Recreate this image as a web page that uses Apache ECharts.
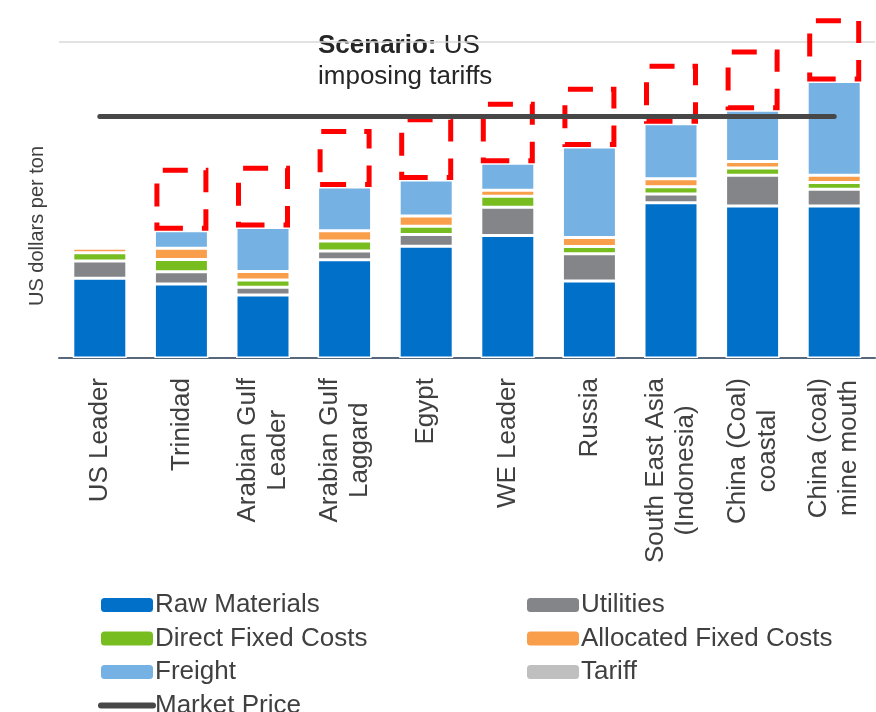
<!DOCTYPE html>
<html>
<head>
<meta charset="utf-8">
<script src="https://cdn.jsdelivr.net/npm/echarts@6/dist/echarts.min.js"></script>
<style>
  html, body { margin: 0; padding: 0; background: #ffffff; }
  #chart { width: 876px; height: 712px; }
</style>
</head>
<body>
<div id="chart"></div>
<script>
// Cost build-up per producer region (US dollars per ton)
const categories = [
  'US Leader',
  'Trinidad',
  'Arabian Gulf\nLeader',
  'Arabian Gulf\nLaggard',
  'Egypt',
  'WE Leader',
  'Russia',
  'South East Asia\n(Indonesia)',
  'China (Coal)\ncoastal',
  'China (coal)\nmine mouth'
];
const rawMaterials   = [252, 234, 199, 311, 354, 388, 244, 491, 481, 481];
const utilities      = [55, 39, 25, 28, 37, 89, 86, 28, 97, 53];
const directFixed    = [26, 39, 23, 31, 26, 35, 23, 23, 23, 21];
const allocatedFixed = [14, 35, 27, 33, 32, 19, 28, 25, 21, 23];
const freight        = [0, 56, 139, 138, 114, 85, 287, 174, 162, 297];
const tariff         = [null, 199, 195, 184, 199, 195, 190, 190, 192, 200];
const marketPrice    = [764, 764, 764, 764, 764, 764, 764, 764, 764, 764];

const FONT = "'Liberation Sans', Arial, Helvetica, sans-serif";
const TEXT = '#404040';

const chart = echarts.init(document.getElementById('chart'), null, { renderer: 'canvas' });

function costBar(name, data, color) {
  return {
    name: name,
    type: 'bar',
    stack: 'cost',
    barWidth: 54,
    data: data,
    itemStyle: { color: color, borderColor: '#ffffff', borderWidth: 1.5 },
    emphasis: { disabled: true }
  };
}

function legendBlock(left, items) {
  return {
    orient: 'vertical',
    left: left,
    top: 592,
    height: 200,
    padding: 0,
    itemWidth: 52,
    itemHeight: 14,
    itemGap: 7.5,
    textStyle: { fontFamily: FONT, fontSize: 26, color: TEXT, padding: [0, 0, 0, -3] },
    itemStyle: { borderWidth: 0 },
    data: items
  };
}

const option = {
  animation: false,
  backgroundColor: '#ffffff',
  grid: { left: 59, right: 1, top: 42, bottom: 354 },
  graphic: [{
    type: 'text',
    left: 318,
    top: 30,
    style: {
      text: '{b|Scenario:} US\nimposing tariffs',
      fontFamily: FONT,
      fontSize: 26,
      lineHeight: 31,
      fill: '#262626',
      rich: {
        b: { fontFamily: FONT, fontSize: 26, lineHeight: 31, fontWeight: 'bold', fill: '#262626' }
      }
    }
  }],
  legend: [
    legendBlock(98, [
      'Raw Materials',
      'Direct Fixed Costs',
      'Freight',
      {
        name: 'Market Price',
        itemStyle: { color: 'rgba(0,0,0,0)', borderWidth: 0 },
        lineStyle: { color: '#474747', width: 6, cap: 'round' }
      }
    ]),
    legendBlock(527, [
      'Utilities',
      'Allocated Fixed Costs',
      { name: 'Tariff', itemStyle: { color: '#BFBFBF', borderWidth: 0, borderColor: '#BFBFBF', borderType: 'solid' } }
    ])
  ],
  xAxis: {
    type: 'category',
    data: categories,
    axisLine: { show: true, lineStyle: { color: '#56687A', width: 2 } },
    axisTick: { show: false },
    axisLabel: {
      interval: 0,
      rotate: 90,
      margin: 20,
      fontFamily: FONT,
      fontSize: 26,
      color: TEXT,
      formatter: function (v) {
        return v.split('\n').map(function (s) { return '{c|' + s + '}'; }).join('\n');
      },
      rich: {
        c: { align: 'center', fontFamily: FONT, fontSize: 26, color: TEXT, lineHeight: 30 }
      }
    }
  },
  yAxis: {
    type: 'value',
    min: 0,
    max: 1000,
    interval: 1000,
    name: 'US dollars per ton',
    nameLocation: 'middle',
    nameGap: 12,
    nameTextStyle: { fontFamily: FONT, fontSize: 20, color: TEXT, padding: [0, 52, 0, 0] },
    axisLine: { show: false },
    axisTick: { show: false },
    axisLabel: { show: false },
    splitLine: { show: true, lineStyle: { color: '#D9D9D9', width: 1.5 } }
  },
  series: [
    costBar('Raw Materials', rawMaterials, '#0070C9'),
    costBar('Utilities', utilities, '#838589'),
    costBar('Direct Fixed Costs', directFixed, '#78BD20'),
    costBar('Allocated Fixed Costs', allocatedFixed, '#F99E4B'),
    costBar('Freight', freight, '#75B2E3'),
    {
      name: 'Tariff',
      type: 'bar',
      stack: 'cost',
      data: tariff,
      clip: false,
      itemStyle: {
        color: 'rgba(255,255,255,0)',
        borderColor: '#FF0000',
        borderWidth: 5,
        // dash run along each box outline: bottom (left to right), right side up,
        // top (right to left), left side down
        borderType: [26, 19, 23, 17, 22, 18, 25, 19, 23, 16, 22, 0]
      },
      emphasis: { disabled: true }
    },
    {
      name: 'Market Price',
      type: 'line',
      data: marketPrice,
      symbol: 'none',
      z: 5,
      lineStyle: { color: '#474747', width: 5, cap: 'round' },
      itemStyle: { color: '#474747' },
      emphasis: { disabled: true }
    }
  ]
};

chart.setOption(option);
</script>
</body>
</html>
